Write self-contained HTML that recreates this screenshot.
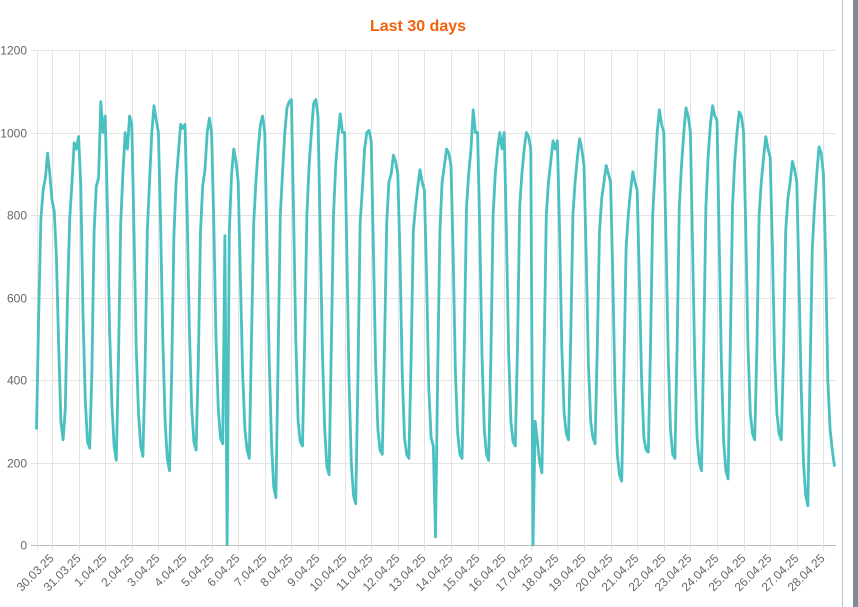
<!DOCTYPE html>
<html><head><meta charset="utf-8"><style>
html,body{margin:0;padding:0;background:#fff;width:858px;height:607px;overflow:hidden}
svg{display:block;font-family:"Liberation Sans",sans-serif}
</style></head><body>
<svg id="chart" width="858" height="607" viewBox="0 0 858 607">
<text x="418" y="31" text-anchor="middle" font-size="16" font-weight="bold" fill="#f4600c">Last 30 days</text>
<g id="grid"></g>
<g id="axes"></g>
<g id="series"></g>
<line x1="842.5" y1="0" x2="842.5" y2="607" stroke="#a8ccd6" stroke-width="1"/>
<rect x="853" y="0" width="5" height="607" fill="#7e8c94"/>
</svg>
<script>
const dayLabels = ["30.03.25","31.03.25","1.04.25","2.04.25","3.04.25","4.04.25","5.04.25","6.04.25","7.04.25","8.04.25","9.04.25","10.04.25","11.04.25","12.04.25","13.04.25","14.04.25","15.04.25","16.04.25","17.04.25","18.04.25","19.04.25","20.04.25","21.04.25","22.04.25","23.04.25","24.04.25","25.04.25","26.04.25","27.04.25","28.04.25"];
const yTicks = [0,200,400,600,800,1000,1200];
const seriesStart = -0.583;
const samplesPerDay = 12;
const seriesValues = [
280,560,790,860,890,950,900,
836,810,700,480,300,255,330,600,790,880,975,960,
990,870,560,350,250,235,420,760,870,890,1075,1000,
1040,820,520,340,240,205,450,780,900,1000,960,1040,
1020,760,480,320,240,215,430,760,880,1000,1065,1030,
1000,780,500,300,210,180,420,750,880,950,1020,1010,
1020,800,520,330,250,230,440,760,870,910,1000,1035,
1000,780,500,330,260,245,750,0,760,900,960,930,
880,650,420,280,230,210,500,780,880,960,1020,1040,
1000,720,450,250,140,115,450,800,900,1000,1060,1075,
1080,800,500,300,250,240,500,800,920,1000,1070,1080,
1040,760,470,280,190,170,480,800,920,990,1045,1000,
1000,720,400,200,120,100,400,780,860,960,1000,1005,
980,720,440,280,230,220,480,780,880,900,945,930,
900,700,420,260,220,210,450,760,820,870,910,880,
860,650,380,260,240,20,420,760,880,920,960,950,
920,700,420,270,220,210,480,820,900,960,1055,1000,
1000,760,460,280,220,205,460,800,900,960,1000,960,
1000,760,470,300,250,240,480,820,900,960,1000,990,
960,0,300,250,200,175,460,800,880,930,980,960,
980,760,480,320,270,255,500,800,880,940,985,960,
920,700,440,300,260,245,480,760,840,880,920,900,
880,650,380,220,170,155,420,720,800,860,905,880,
860,640,400,260,230,225,480,800,900,1000,1055,1020,
1000,740,460,280,220,210,480,820,920,1000,1060,1040,
1000,720,440,260,200,180,480,820,940,1020,1065,1040,
1030,740,440,250,180,160,480,820,930,1000,1050,1040,
1000,760,480,320,270,255,480,800,880,940,990,960,
940,720,460,320,270,255,460,760,840,880,930,910,
880,640,380,200,120,95,420,720,820,900,965,950,
900,700,400,280,230,190
];
const NS="http://www.w3.org/2000/svg";
const X0=37,X1=836,Y0=545,Y1=50,DAY0=52,DAYW=26.6;
const xScale=t=>DAY0+DAYW*t;
const yScale=v=>Y0-(v-0)/(1200-0)*(Y0-Y1);
function mk(tag,attrs,parent){const e=document.createElementNS(NS,tag);for(const k in attrs)e.setAttribute(k,attrs[k]);parent.appendChild(e);return e;}
const grid=document.getElementById('grid'),axes=document.getElementById('axes'),series=document.getElementById('series');
yTicks.forEach(v=>{const y=Math.round(yScale(v))+0.5;
 const g=mk('line',{x1:X0-6,x2:X1,y1:y,y2:y,stroke:v===0?'#bbb':'#e3e3e3','stroke-width':1},grid);
 
 
 const t=mk('text',{x:27,y:y+4,'text-anchor':'end','font-size':12,fill:'#666'},axes);
 
 
 t.textContent=v;});
const la=mk('line',{x1:X0+0.5,x2:X0+0.5,y1:Y1,y2:Y0+6,stroke:'#e3e3e3'},grid);


dayLabels.forEach((lab,i)=>{const x=Math.round(xScale(i))+0.5;
 const g=mk('line',{x1:x,x2:x,y1:Y1,y2:Y0+6,stroke:'#e3e3e3'},grid);
 
 
 const t=mk('text',{x:x+2,y:Y0+14,'text-anchor':'end','font-size':12,fill:'#666',transform:`rotate(-45 ${x+2} ${Y0+14})`},axes);
 
 
 t.textContent=lab;});
let d='';
seriesValues.forEach((v,i)=>{const t=seriesStart+i/samplesPerDay;d+=(i?'L':'M')+xScale(t).toFixed(1)+' '+yScale(v).toFixed(1);});
const p=mk('path',{d:d,fill:'none',stroke:'#4bc0c0','stroke-width':2.8,'stroke-linejoin':'round'},series);


</script>
</body></html>
